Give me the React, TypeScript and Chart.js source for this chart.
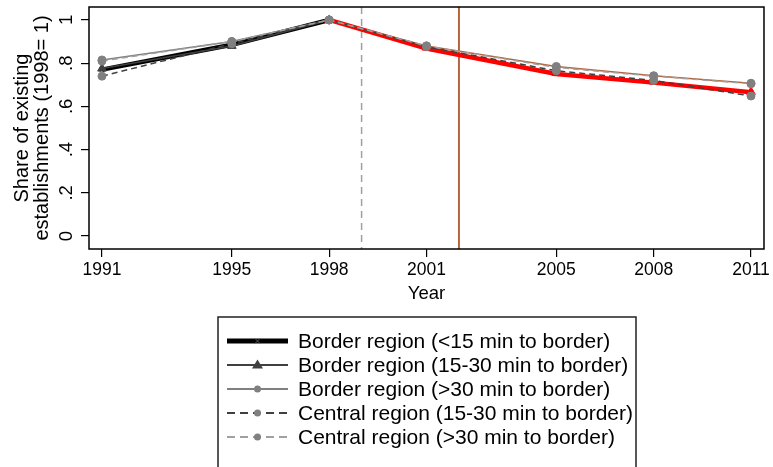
import React, { useEffect, useRef } from 'react';
import { Chart, registerables } from 'chart.js';
Chart.register(...registerables);

const years = [1991, 1995, 1998, 2001, 2005, 2008, 2011];
const borderLt15 = [0.77, 0.885, 1.0, 0.868, 0.75, 0.71, 0.665];
const border15to30 = [0.775, 0.88, 1.0, 0.872, 0.755, 0.715, 0.667];
const borderGt30 = [0.815, 0.9, 1.0, 0.88, 0.785, 0.742, 0.707];
const central15to30 = [0.74, 0.89, 1.0, 0.876, 0.765, 0.72, 0.648];
const centralGt30 = [0.81, 0.9, 1.0, 0.88, 0.78, 0.74, 0.705];
const seriesNames = [
  'Border region (<15 min to border)',
  'Border region (15-30 min to border)',
  'Border region (>30 min to border)',
  'Central region (15-30 min to border)',
  'Central region (>30 min to border)',
];
const yTicks = [0, 0.2, 0.4, 0.6, 0.8, 1];
const yTickLabels = ['0', '.2', '.4', '.6', '.8', '1'];
const yTitle = ['Share of existing', 'establishments (1998= 1)'];
const xTitle = 'Year';
const changeYear = 1998;
const dashedRefYear = 1999;
const solidRefYear = 2002;

const FONT = '"Liberation Sans", Arial, sans-serif';
const RED = '#ff0000';
const BROWN = '#b4643c';

const styles = [
  { color: '#000000', after: RED, width: 4.5, dash: [] as number[], point: 'crossRot', radius: 3, pc: '#000000', pcAfter: RED },
  { color: '#404040', after: RED, width: 1.5, dash: [] as number[], point: 'triangle', radius: 5, pc: '#404040', pcAfter: RED },
  { color: '#808080', after: BROWN, width: 1.5, dash: [] as number[], point: 'circle', radius: 4, pc: '#808080', pcAfter: '#808080' },
  { color: '#404040', after: '#404040', width: 1.5, dash: [6, 4], point: 'circle', radius: 4, pc: '#808080', pcAfter: '#808080' },
  { color: '#a0a0a0', after: '#a0a0a0', width: 1.5, dash: [6, 4], point: 'circle', radius: 4, pc: '#808080', pcAfter: '#808080' },
];
const seriesValues = [borderLt15, border15to30, borderGt30, central15to30, centralGt30];

const refLinesPlugin = {
  id: 'refLines',
  beforeDatasetsDraw(chart: any) {
    const { ctx, chartArea, scales } = chart;
    const x = scales.x;
    ctx.save();
    ctx.lineWidth = 1.5;
    ctx.strokeStyle = '#a0a0a0';
    ctx.setLineDash([7, 5]);
    const px1 = x.getPixelForValue(dashedRefYear);
    ctx.beginPath();
    ctx.moveTo(px1, chartArea.top);
    ctx.lineTo(px1, chartArea.bottom);
    ctx.stroke();
    ctx.setLineDash([]);
    ctx.strokeStyle = BROWN;
    ctx.lineWidth = 2;
    const px2 = x.getPixelForValue(solidRefYear);
    ctx.beginPath();
    ctx.moveTo(px2, chartArea.top);
    ctx.lineTo(px2, chartArea.bottom);
    ctx.stroke();
    ctx.restore();
  },
};

const framePlugin = {
  id: 'frame',
  afterDraw(chart: any) {
    const { ctx, chartArea, scales } = chart;
    ctx.save();
    ctx.strokeStyle = '#000';
    ctx.lineWidth = 1.5;
    ctx.strokeRect(chartArea.left, chartArea.top, chartArea.right - chartArea.left, chartArea.bottom - chartArea.top);
    // rotated y tick labels
    const y = scales.y;
    ctx.fillStyle = '#000';
    ctx.font = `18.5px ${FONT}`;
    ctx.textAlign = 'center';
    ctx.textBaseline = 'middle';
    yTicks.forEach((v, i) => {
      const py = y.getPixelForValue(v);
      ctx.save();
      ctx.translate(chartArea.left - 22, py);
      ctx.rotate(-Math.PI / 2);
      ctx.fillText(yTickLabels[i], 0, 0);
      ctx.restore();
    });
    ctx.restore();
  },
};

function drawMarker(ctx: CanvasRenderingContext2D, type: string, x: number, y: number, r: number, color: string) {
  ctx.save();
  ctx.fillStyle = color;
  ctx.strokeStyle = color;
  ctx.setLineDash([]);
  ctx.lineWidth = 1;
  if (type === 'circle') {
    ctx.beginPath();
    ctx.arc(x, y, r, 0, Math.PI * 2);
    ctx.fill();
  } else if (type === 'triangle') {
    const h = r * 1.8;
    ctx.beginPath();
    ctx.moveTo(x, y - h * 0.6);
    ctx.lineTo(x + r * 1.1, y + h * 0.4);
    ctx.lineTo(x - r * 1.1, y + h * 0.4);
    ctx.closePath();
    ctx.fill();
  } else {
    ctx.strokeStyle = '#555';
    ctx.beginPath();
    ctx.moveTo(x - r, y - r);
    ctx.lineTo(x + r, y + r);
    ctx.moveTo(x + r, y - r);
    ctx.lineTo(x - r, y + r);
    ctx.stroke();
  }
  ctx.restore();
}

const legendPlugin = {
  id: 'customLegend',
  afterDraw(chart: any) {
    const { ctx } = chart;
    const bx = 218, by = 317, bw = 418, bh = 160;
    const rowH = 24;
    const sx0 = 227, sx1 = 288, tx = 298;
    ctx.save();
    ctx.strokeStyle = '#222';
    ctx.lineWidth = 1.5;
    ctx.strokeRect(bx, by, bw, bh);
    ctx.font = `21px ${FONT}`;
    ctx.textAlign = 'left';
    ctx.textBaseline = 'middle';
    seriesNames.forEach((name, i) => {
      const s = styles[i];
      const cy = by + rowH * (i + 1);
      ctx.strokeStyle = s.color;
      ctx.lineWidth = i === 0 ? 5 : 2;
      ctx.setLineDash(s.dash.length ? [8, 5] : []);
      ctx.beginPath();
      ctx.moveTo(sx0, cy);
      ctx.lineTo(sx1, cy);
      ctx.stroke();
      ctx.setLineDash([]);
      drawMarker(ctx, s.point, (sx0 + sx1) / 2, cy, i === 0 ? 2.5 : i === 1 ? 5 : 3.5, i === 1 ? '#404040' : s.pc);
      ctx.fillStyle = '#000';
      ctx.fillText(name, tx, cy + 1);
    });
    ctx.restore();
  },
};

export default function App() {
  const ref = useRef<HTMLCanvasElement | null>(null);
  useEffect(() => {
    document.body.style.margin = '0';
    const canvas = ref.current!;
    const datasets = seriesValues.map((vals, i) => {
      const s = styles[i];
      return {
        label: seriesNames[i],
        data: years.map((yr, j) => ({ x: yr, y: vals[j] })),
        borderColor: s.color,
        borderWidth: s.width,
        borderDash: s.dash,
        tension: 0,
        fill: false,
        pointStyle: s.point,
        pointRadius: s.radius,
        pointBackgroundColor: years.map((yr) => (yr >= changeYear ? s.pcAfter : s.pc)),
        pointBorderColor: years.map((yr) => (yr >= changeYear ? s.pcAfter : s.pc)),
        pointBorderWidth: 1,
        order: 5 - i,
        segment: {
          borderColor: (c: any) => (c.p0.parsed.x >= changeYear ? s.after : s.color),
        },
      };
    });
    const chart = new Chart(canvas, {
      type: 'line',
      data: { datasets } as any,
      options: {
        responsive: false,
        animation: false,
        layout: { padding: { left: 0, right: 9, top: 7, bottom: 158 } },
        plugins: { legend: { display: false }, tooltip: { enabled: false } },
        scales: {
          x: {
            type: 'linear',
            min: 1990.6,
            max: 2011.4,
            afterBuildTicks: (sc: any) => {
              sc.ticks = years.map((v) => ({ value: v }));
            },
            afterFit: (sc: any) => {
              sc.height = 60;
            },
            ticks: {
              autoSkip: false,
              maxRotation: 0,
              padding: 3,
              color: '#000',
              font: { family: FONT, size: 17.5 },
              callback: (v: any) => String(v),
            },
            grid: { drawOnChartArea: false, drawTicks: true, tickLength: 8, color: '#000', lineWidth: 1.2 },
            border: { display: false },
            title: {
              display: true,
              text: xTitle,
              color: '#000',
              font: { family: FONT, size: 18.5 },
              padding: { top: 0, bottom: 4 },
            },
          },
          y: {
            type: 'linear',
            min: -0.06,
            max: 1.06,
            afterBuildTicks: (sc: any) => {
              sc.ticks = yTicks.map((v) => ({ value: v }));
            },
            afterFit: (sc: any) => {
              sc.width = 89;
            },
            ticks: { display: false },
            grid: { drawOnChartArea: false, drawTicks: true, tickLength: 8, color: '#000', lineWidth: 1.2 },
            border: { display: false },
            title: {
              display: true,
              text: yTitle,
              color: '#000',
              font: { family: FONT, size: 20, lineHeight: 1.0 },
              padding: { top: 12, bottom: 0 },
            },
          },
        },
      },
      plugins: [refLinesPlugin, framePlugin, legendPlugin],
    } as any);
    return () => chart.destroy();
  }, []);
  return <canvas ref={ref} width={773} height={467} style={{ display: 'block' }} />;
}
